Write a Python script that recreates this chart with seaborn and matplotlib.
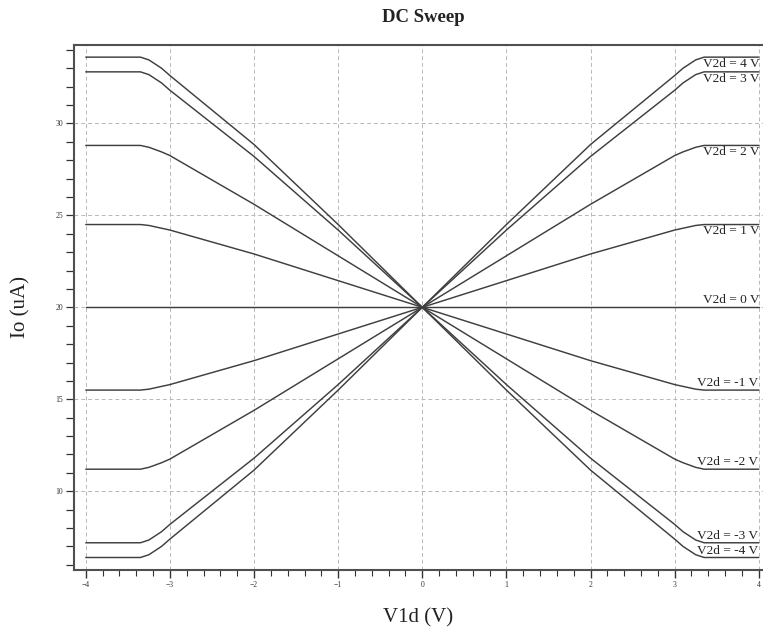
import numpy as np
import pandas as pd
import matplotlib
matplotlib.use("Agg")
import matplotlib.pyplot as plt
from matplotlib.ticker import MultipleLocator
import seaborn as sns

# Sweep points of V1d (V)
v1d = [-4.0, -3.35, -3.25, -3.1, -3.0, -2.0, -1.0, 0.0, 1.0, 2.0, 3.0, 3.1, 3.25, 3.35, 4.0]

# Output current Io (uA) for each V2d setting
io_p4 = [6.4, 6.4, 6.55, 7.0, 7.4, 11.15, 15.5, 20.0, 24.5, 28.85, 32.6, 33.0, 33.45, 33.6, 33.6]
io_p3 = [7.2, 7.2, 7.35, 7.8, 8.2, 11.8, 15.8, 20.0, 24.2, 28.2, 31.8, 32.2, 32.65, 32.8, 32.8]
io_p2 = [11.2, 11.2, 11.3, 11.55, 11.75, 14.4, 17.2, 20.0, 22.8, 25.6, 28.25, 28.45, 28.7, 28.8, 28.8]
io_p1 = [15.5, 15.5, 15.55, 15.7, 15.8, 17.1, 18.55, 20.0, 21.45, 22.9, 24.2, 24.3, 24.45, 24.5, 24.5]
io_0 = [20.0] * 15
io_m1 = [24.5, 24.5, 24.45, 24.3, 24.2, 22.9, 21.45, 20.0, 18.55, 17.1, 15.8, 15.7, 15.55, 15.5, 15.5]
io_m2 = [28.8, 28.8, 28.7, 28.45, 28.25, 25.6, 22.8, 20.0, 17.2, 14.4, 11.75, 11.55, 11.3, 11.2, 11.2]
io_m3 = [32.8, 32.8, 32.65, 32.2, 31.8, 28.2, 24.2, 20.0, 15.8, 11.8, 8.2, 7.8, 7.35, 7.2, 7.2]
io_m4 = [33.6, 33.6, 33.45, 33.0, 32.6, 28.85, 24.5, 20.0, 15.5, 11.15, 7.4, 7.0, 6.55, 6.4, 6.4]

v2d_values = [4, 3, 2, 1, 0, -1, -2, -3, -4]
series = [io_p4, io_p3, io_p2, io_p1, io_0, io_m1, io_m2, io_m3, io_m4]
labels = [f"V2d = {v} V" for v in v2d_values]

x_ticks = [-4, -3, -2, -1, 0, 1, 2, 3, 4]
y_ticks = [10, 15, 20, 25, 30]

sns.set_theme(style="white")
plt.rcParams["font.family"] = ["Liberation Serif", "DejaVu Serif"]

fig = plt.figure(figsize=(7.63, 6.32), dpi=100)
ax = fig.add_axes([74 / 763, 1 - 570 / 632, 1 - 74 / 763, (570 - 45) / 632])

frames = []
for lab, vals in zip(labels, series):
    frames.append(pd.DataFrame({"V1d": v1d, "Io": vals, "curve": lab}))
df = pd.concat(frames, ignore_index=True)

sns.lineplot(data=df, x="V1d", y="Io", units="curve", estimator=None,
             sort=False, color="#3f3f3f", linewidth=1.05, ax=ax, legend=False)

# Curve labels at the right end of each trace
for v, lab, vals in zip(v2d_values, labels, series):
    if v > 0:
        ax.text(3.335, vals[-1] - 0.05, lab, ha="left", va="top",
                fontsize=9.6, color="#222222")
    else:
        xpos = 3.335 if v == 0 else 3.27
        ax.text(xpos, vals[-1] + 0.05, lab, ha="left", va="bottom",
                fontsize=9.6, color="#222222")

ax.set_xlim(-4.14, 4.05)
ax.set_ylim(5.72, 34.26)
ax.set_xticks(x_ticks)
ax.set_yticks(y_ticks)
ax.xaxis.set_minor_locator(MultipleLocator(0.2))
ax.yaxis.set_minor_locator(MultipleLocator(1))
ax.grid(True, which="major", color="#b8b8b8", linestyle=(0, (4, 3)), linewidth=0.7)

ax.tick_params(axis="x", which="major", direction="out", length=6, width=1.0,
               labelsize=5.5, colors="#333333", pad=2, bottom=True)
ax.tick_params(axis="x", which="minor", direction="out", length=4, width=0.8,
               colors="#333333", bottom=True)
ax.tick_params(axis="y", which="both", direction="out", length=6, width=0.9,
               labelsize=5.5, colors="#333333", pad=2, left=True)

for side in ["left", "top", "bottom"]:
    ax.spines[side].set_visible(True)
    ax.spines[side].set_color("#505050")
    ax.spines[side].set_linewidth(1.5)
ax.spines["right"].set_visible(False)

ax.set_xlabel("V1d (V)", fontsize=15, color="#222222", labelpad=14)
ax.set_ylabel("Io (uA)", fontsize=15, color="#222222", labelpad=18)
fig.text(0.555, 1 - 17 / 632, "DC Sweep", ha="center", va="center",
         fontsize=13.5, fontweight="bold", color="#222222")

fig.savefig("out.png", dpi=100)
